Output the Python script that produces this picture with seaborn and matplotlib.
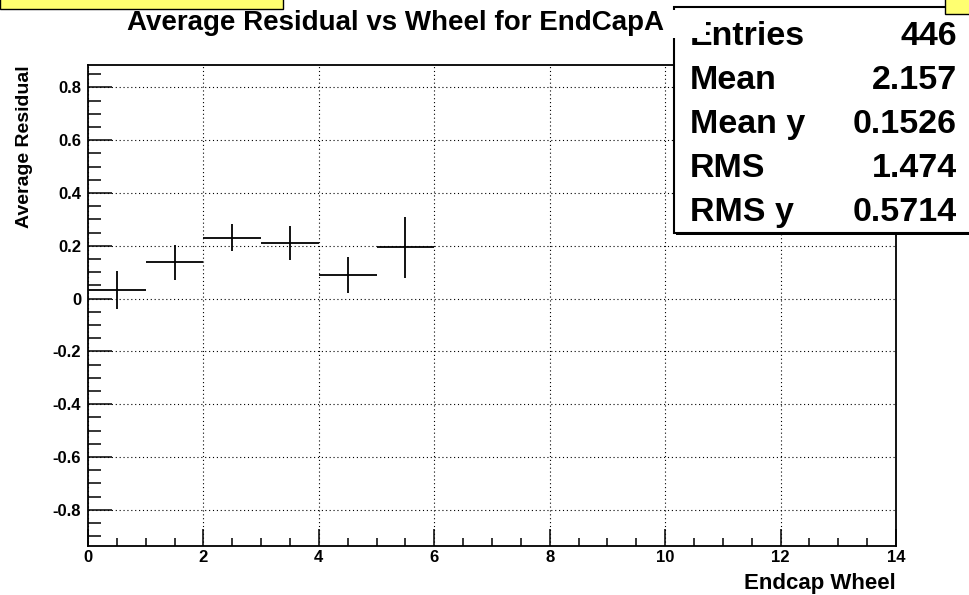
import matplotlib
matplotlib.use("Agg")
import matplotlib.pyplot as plt
import seaborn as sns
from matplotlib.patches import Rectangle
from matplotlib.ticker import MultipleLocator

# ================================================================
# DATA
# ================================================================
wheel = [0.5, 1.5, 2.5, 3.5, 4.5, 5.5]
bin_halfwidth = [0.5, 0.5, 0.5, 0.5, 0.5, 0.5]
avg_residual = [0.033, 0.137, 0.230, 0.212, 0.089, 0.195]
residual_err = [0.071, 0.067, 0.051, 0.065, 0.068, 0.115]

stat_names = ["Entries", "Mean", "Mean y", "RMS", "RMS y"]
stat_values = ["446", "2.157", "0.1526", "1.474", "0.5714"]

title = "Average Residual vs Wheel for EndCapA"
xlabel = "Endcap Wheel"
ylabel = "Average Residual"

# ================================================================
# STYLE
# ================================================================
sns.set_theme(style="white")
plt.rcParams["font.family"] = ["Liberation Sans", "DejaVu Sans"]
plt.rcParams["font.weight"] = "bold"
for key in ["text.color", "axes.labelcolor", "xtick.color", "ytick.color"]:
    plt.rcParams[key] = "black"

W, H = 970, 595
fig = plt.figure(figsize=(W / 100, H / 100), dpi=100)
ax = fig.add_axes([88 / W, 1 - 546 / H, (896 - 88) / W, (546 - 65) / H])

# ================================================================
# PROFILE POINTS
# ================================================================
ax.errorbar(wheel, avg_residual, xerr=bin_halfwidth, yerr=residual_err,
            fmt="none", ecolor="black", elinewidth=1.3, capsize=0, zorder=3)

ax.set_xlim(0, 14)
ax.set_ylim(-0.937, 0.885)
ax.xaxis.set_major_locator(MultipleLocator(2))
ax.xaxis.set_minor_locator(MultipleLocator(0.5))
ax.yaxis.set_major_locator(MultipleLocator(0.2))
ax.yaxis.set_minor_locator(MultipleLocator(0.05))
ax.set_xticks(ax.get_xticks())
ax.set_xticklabels([f"{v:g}" for v in ax.get_xticks()])
ax.set_yticks(ax.get_yticks())
ax.set_yticklabels([f"{v:.1f}".rstrip("0").rstrip(".") if abs(v) > 1e-9 else "0"
                    for v in ax.get_yticks()])
ax.set_xlim(0, 14)
ax.set_ylim(-0.937, 0.885)

ax.tick_params(axis="both", which="both", direction="in", color="black",
               labelcolor="black", width=1.1, bottom=True, left=True,
               top=False, right=False)
ax.tick_params(axis="y", which="major", length=17, pad=5, labelsize=12)
ax.tick_params(axis="y", which="minor", length=9)
ax.tick_params(axis="x", which="major", length=12, pad=3, labelsize=12)
ax.tick_params(axis="x", which="minor", length=6)
for lab in ax.get_xticklabels() + ax.get_yticklabels():
    lab.set_fontweight("bold")

for sp in ax.spines.values():
    sp.set_color("black")
    sp.set_linewidth(1.3)

ax.grid(True, which="major", color="black", linestyle=(0, (1, 2.5)), linewidth=0.8)

ax.set_xlabel(xlabel, fontsize=16, fontweight="bold", color="black")
ax.xaxis.set_label_coords(1.0, -(589 - 546) / 481)
ax.xaxis.label.set_horizontalalignment("right")
ax.xaxis.label.set_verticalalignment("baseline")
ax.set_ylabel(ylabel, fontsize=14, fontweight="bold", color="black")
ax.yaxis.set_label_coords(-(88 - 33) / 808, 1.0)
ax.yaxis.label.set_horizontalalignment("right")

# ================================================================
# STATS BOX + TITLE
# ================================================================
fig.patches.append(Rectangle((674 / W, 1 - 233 / H), 0.4, (233 - 7) / H,
                             transform=fig.transFigure, facecolor="white",
                             edgecolor="black", linewidth=1.5, zorder=5))
fig.patches.append(Rectangle((676 / W, 1 - 235 / H), 0.4, 2 / H,
                             transform=fig.transFigure, facecolor="black",
                             edgecolor="none", zorder=5))
for i, (name, val) in enumerate(zip(stat_names, stat_values)):
    yb = 45 + 44 * i
    fig.text(690 / W, 1 - yb / H, name, fontsize=24.5, fontweight="bold",
             ha="left", va="baseline", zorder=6)
    fig.text(957 / W, 1 - yb / H, val, fontsize=24.5, fontweight="bold",
             ha="right", va="baseline", zorder=6)

# title pad covering top-left of the stats box
fig.patches.append(Rectangle((84 / W, 1 - 38 / H), (706 - 84) / W, 28 / H,
                             transform=fig.transFigure, facecolor="white",
                             edgecolor="none", zorder=7))
fig.text(396 / W, 1 - 30 / H, title, fontsize=20, fontweight="bold",
         ha="center", va="baseline", zorder=8)

# yellow header boxes
fig.patches.append(Rectangle((0, 1 - 9 / H), 283 / W, 0.05,
                             transform=fig.transFigure, facecolor="#ffff70",
                             edgecolor="black", linewidth=1.0, zorder=9))
fig.patches.append(Rectangle((945 / W, 1 - 14 / H), 0.05, 0.05,
                             transform=fig.transFigure, facecolor="#ffff70",
                             edgecolor="black", linewidth=1.0, zorder=9))

fig.savefig("out.png", dpi=100)
